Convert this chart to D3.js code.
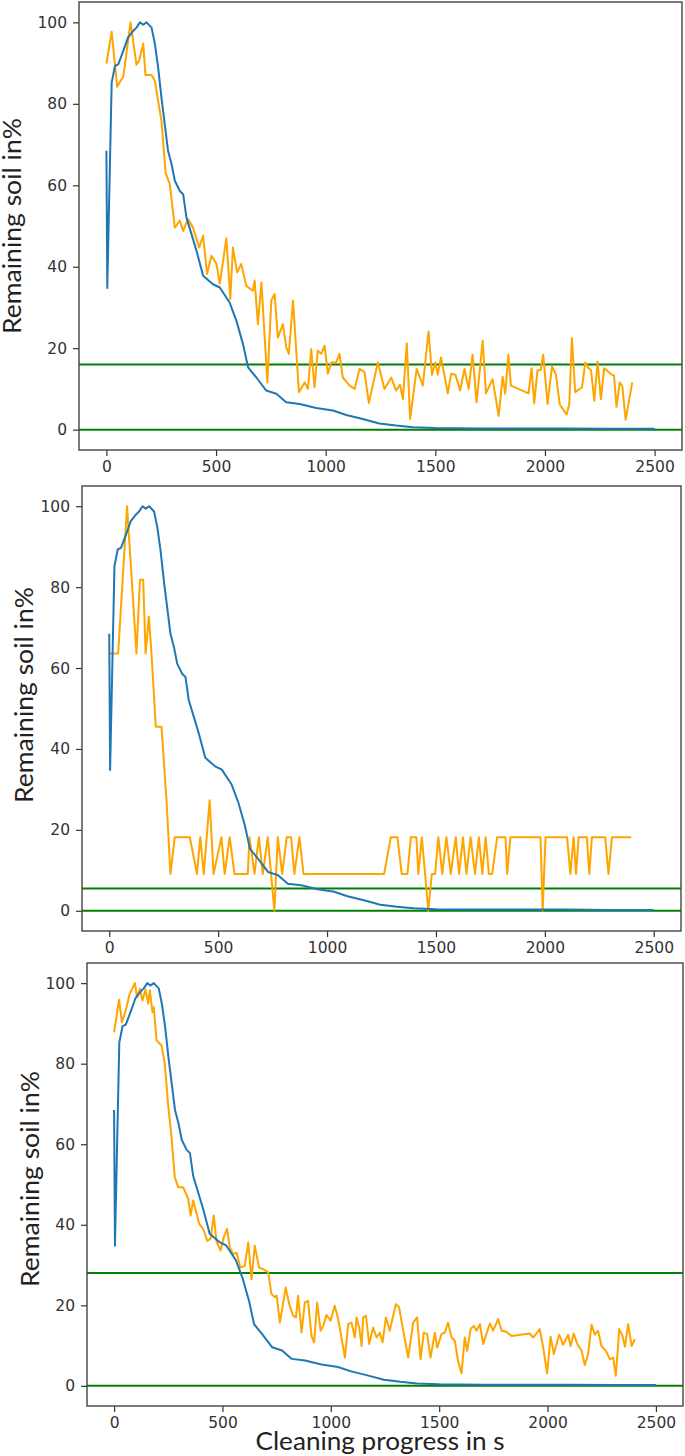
<!DOCTYPE html>
<html>
<head>
<meta charset="utf-8">
<script src="https://cdn.jsdelivr.net/npm/d3@7"></script>
<style>
  html, body { margin: 0; padding: 0; background: #fff; }
  svg { display: block; }
  .tick text { font-family: "DejaVu Sans", sans-serif; font-size: 15.5px; fill: #333; }
  .tick line { stroke: #333; stroke-width: 1.2; }
  .axis-label { font-family: Lato, "Open Sans", sans-serif; font-size: 25px; fill: #222; }
</style>
</head>
<body>
<div id="chart"></div>
<script>
"use strict";

// tick values shared by all three panels
const xTicks = [0, 500, 1000, 1500, 2000, 2500];
const yTicks = [0, 20, 40, 60, 80, 100];

// reference curve (blue), same in every panel
const blueTime = [0, 4, 24, 39, 54, 77, 99, 122, 137, 153,
    168, 183, 206, 221, 236, 251, 266, 281, 297, 312,
    335, 350, 365, 388, 411, 441, 486, 517, 562, 593,
    623, 646, 684, 729, 775, 820, 881, 957, 1033, 1094,
    1169, 1245, 1321, 1397, 1500, 1700, 1900, 2100, 2300, 2500];
const blueSoil = [68.5, 34.8, 85.2, 89.3, 89.7, 93, 96.3, 97.9, 98.7, 100,
    99.4, 100, 98.7, 94.7, 88.9, 81.5, 75, 68.5, 65.2, 61.1,
    58.6, 57.8, 52.1, 48, 43.9, 37.8, 35.7, 34.9, 31.2, 26.7,
    21, 15.3, 12.8, 9.6, 8.8, 6.7, 6.3, 5.3, 4.7, 3.6,
    2.6, 1.5, 1, 0.6, 0.4, 0.3, 0.3, 0.3, 0.2, 0.2];

// panel 1 (orange)
const p1Time = [0, 24, 49, 63, 77, 110, 137, 149, 168, 178,
    206, 221, 236, 251, 270, 289, 312, 335, 350, 372,
    395, 423, 441, 459, 479, 502, 517, 547, 565, 577,
    596, 615, 638, 668, 676, 691, 707, 734, 752, 767,
    782, 805, 820, 832, 851, 878, 904, 919, 934, 949,
    964, 980, 995, 1010, 1025, 1048, 1063, 1078, 1109, 1132,
    1154, 1177, 1197, 1215, 1238, 1268, 1299, 1321, 1339, 1352,
    1370, 1385, 1415, 1443, 1469, 1485, 1500, 1511, 1526, 1557,
    1572, 1592, 1613, 1633, 1652, 1670, 1688, 1716, 1731, 1761,
    1789, 1807, 1819, 1833, 1845, 1925, 1939, 1951, 1966, 1980,
    1992, 2012, 2032, 2050, 2068, 2099, 2111, 2123, 2138, 2169,
    2184, 2199, 2210, 2225, 2240, 2255, 2270, 2305, 2315, 2326,
    2341, 2353, 2368, 2398];
const p1Soil = [89.9, 97.7, 84.2, 85.5, 86.6, 100, 89.6, 90.6, 94.8, 87.1,
    87.1, 85.6, 80.7, 75.8, 63.1, 60.3, 49.6, 51.3, 48.8, 51.7,
    49.6, 44.7, 47.6, 38.2, 42.7, 40.7, 35.8, 47, 32.1, 44.7,
    38.6, 40.7, 35.3, 34.1, 36.6, 25.9, 36.1, 11.6, 31.7, 33.3,
    22.6, 25.9, 20.2, 18.6, 31.7, 9.2, 11.6, 10, 19.8, 10.4,
    19.4, 18.6, 20.6, 13.7, 16.5, 16.5, 18.6, 12.8, 10.8, 10,
    14.9, 14.1, 6.5, 11, 16.5, 10, 12.8, 9.6, 11, 7.5,
    21.2, 2.6, 14.9, 10.8, 24.1, 13.5, 16.5, 13.5, 17.7, 8.9,
    13.7, 13.5, 9.6, 14.9, 10, 18.4, 6.7, 21.8, 8.9, 12.4,
    3.4, 13, 8.8, 18.4, 10.8, 8.9, 15.1, 6.5, 14.6, 14.6,
    18.4, 6.3, 15.5, 13.5, 6.1, 3.7, 6.3, 22.5, 9.2, 10.4,
    16.5, 15.1, 14.6, 7.1, 16.7, 7.5, 15.1, 13.5, 13.3, 5.6,
    11.6, 10.6, 2.4, 11.6];

// panel 2 (orange, quantised)
const p2Time = [0, 41, 82, 125, 141, 156, 167, 182, 194, 214,
    240, 263, 281, 301, 370, 403, 418, 434, 461, 479,
    515, 530, 553, 575, 636, 644, 667, 687, 705, 728,
    743, 758, 774, 794, 815, 835, 850, 873, 892, 1262,
    1293, 1323, 1343, 1369, 1385, 1410, 1419, 1435, 1465, 1481,
    1496, 1511, 1529, 1548, 1568, 1591, 1606, 1624, 1640, 1659,
    1679, 1697, 1713, 1728, 1743, 1758, 1781, 1819, 1827, 1842,
    1980, 1990, 2003, 2102, 2117, 2132, 2143, 2155, 2193, 2204,
    2216, 2277, 2292, 2308, 2397];
const p2Soil = [63.6, 63.6, 100, 63.6, 81.8, 81.8, 63.6, 72.7, 63.6, 45.5,
    45.5, 27.3, 9.1, 18.2, 18.2, 9.1, 18.2, 9.1, 27.3, 9.1,
    18.2, 9.1, 18.2, 9.1, 9.1, 18.2, 9.1, 18.2, 9.1, 18.2,
    9.1, 0, 18.2, 9.1, 18.2, 18.2, 9.1, 18.2, 9.1, 9.1,
    18.2, 18.2, 9.1, 9.1, 18.2, 18.2, 9.1, 18.2, 0, 9.1,
    9.1, 18.2, 9.1, 18.2, 9.1, 18.2, 9.1, 18.2, 9.1, 18.2,
    9.1, 18.2, 9.1, 18.2, 9.1, 9.1, 18.2, 18.2, 9.1, 18.2,
    18.2, 0, 18.2, 18.2, 9.1, 18.2, 9.1, 18.2, 18.2, 9.1,
    18.2, 18.2, 9.1, 18.2, 18.2];

// panel 3 (orange)
const p3Time = [0, 23, 36, 54, 72, 96, 106, 119, 131, 145,
    157, 165, 177, 183, 196, 219, 234, 249, 265, 280,
    296, 319, 342, 353, 365, 393, 411, 430, 445, 460,
    472, 491, 506, 521, 534, 549, 565, 583, 603, 619,
    634, 649, 669, 688, 711, 726, 742, 750, 765, 792,
    808, 826, 839, 849, 865, 880, 895, 911, 923, 937,
    953, 965, 980, 999, 1018, 1034, 1065, 1080, 1095, 1111,
    1119, 1131, 1142, 1149, 1162, 1177, 1195, 1211, 1226, 1239,
    1254, 1272, 1300, 1315, 1334, 1357, 1380, 1398, 1414, 1429,
    1444, 1460, 1480, 1491, 1511, 1526, 1541, 1557, 1572, 1587,
    1603, 1618, 1629, 1645, 1660, 1672, 1688, 1703, 1718, 1734,
    1749, 1772, 1788, 1808, 1834, 1918, 1934, 1964, 1980, 1998,
    2014, 2029, 2054, 2072, 2095, 2106, 2121, 2137, 2157, 2172,
    2187, 2203, 2218, 2233, 2249, 2269, 2288, 2303, 2315, 2331,
    2346, 2357, 2372, 2388, 2403];
const p3Soil = [87.8, 95.9, 90.3, 93.2, 97.4, 100, 96.5, 98.6, 95.7, 98.4,
    94.9, 98.2, 92.8, 94, 85.8, 84.5, 80, 70, 61.7, 51.8,
    49.3, 49.3, 46.4, 42.3, 46, 40.2, 39, 36, 36.5, 42.3,
    36, 33.6, 36.9, 39, 34.4, 32.7, 33.1, 29.4, 29.8, 35.6,
    26.5, 34.8, 29.4, 29, 28.2, 22.8, 22, 22.4, 15.7, 24.4,
    20.3, 17.4, 17, 22.4, 13.3, 20.7, 21.1, 12.4, 10.8, 20.7,
    13.7, 14.9, 17.6, 16.2, 19.9, 16.6, 7, 15.3, 15.7, 12,
    17, 14.5, 9.9, 17, 17.4, 10.4, 14.5, 12, 13.2, 10.8,
    17, 13.7, 20.3, 19.5, 13.7, 7, 15.7, 17, 6.6, 13.2,
    12.9, 7, 13.2, 9.5, 12.9, 13.2, 15.7, 12, 11.2, 6.2,
    3.1, 12, 8.7, 14.1, 14.9, 13.7, 15.3, 10.4, 12.9, 15.5,
    13.7, 16.6, 13.7, 13.5, 12.4, 13, 12, 14.1, 9.5, 3.1,
    12.2, 7.9, 12.7, 10.2, 12.7, 9.9, 13, 10.4, 8.7, 5.2,
    7.9, 15.2, 12.7, 13.7, 9.9, 8.7, 6.6, 7, 2.5, 14.1,
    12.4, 9.7, 15.3, 9.9, 11.6];

// green horizontal lines per panel (the lower one is always 0)
const limits = [16, 5.5, 28];

const yLabel = "Remaining soil in%";
const xLabel = "Cleaning progress in s";

const width = 685;
const height = 1456;

// panel frames in the picture
const panels = [
    { left: 79, right: 682, top: 2, bottom: 450, labelX: 21, time: p1Time, soil: p1Soil, limit: limits[0] },
    { left: 82, right: 681, top: 486, bottom: 931, labelX: 33, labelY: 695, time: p2Time, soil: p2Soil, limit: limits[1] },
    { left: 87, right: 683, top: 963, bottom: 1406, labelX: 39, labelY: 1179, time: p3Time, soil: p3Soil, limit: limits[2] },
];

const svg = d3
    .select("#chart")
    .append("svg")
    .attr("width", width)
    .attr("height", height);

function drawPanel(p) {
    const g = svg.append("g");

    const xScale = d3.scaleLinear().domain([-125, 2625]).range([p.left, p.right]);
    const yScale = d3.scaleLinear().domain([-5, 105]).range([p.bottom, p.top]);

    const line = d3
        .line()
        .x(d => xScale(d[0]))
        .y(d => yScale(d[1]));

    // x axis
    g.append("g")
        .attr("transform", `translate(0, ${p.bottom})`)
        .call(d3.axisBottom(xScale).tickValues(xTicks).tickSize(6).tickPadding(5).tickFormat(d3.format("d")))
        .call(a => a.select(".domain").remove());

    // y axis
    g.append("g")
        .attr("transform", `translate(${p.left}, 0)`)
        .call(d3.axisLeft(yScale).tickValues(yTicks).tickSize(6).tickPadding(6).tickFormat(d3.format("d")))
        .call(a => a.select(".domain").remove());

    // green limit lines
    [0, p.limit].forEach(v => {
        g.append("line")
            .attr("x1", p.left)
            .attr("x2", p.right)
            .attr("y1", yScale(v))
            .attr("y2", yScale(v))
            .attr("stroke", "#008000")
            .attr("stroke-width", 2);
    });

    // measured curve
    g.append("path")
        .datum(d3.zip(p.time, p.soil))
        .attr("d", line)
        .attr("fill", "none")
        .attr("stroke", "#ffa500")
        .attr("stroke-width", 2)
        .attr("stroke-linejoin", "round");

    // reference curve
    g.append("path")
        .datum(d3.zip(blueTime, blueSoil))
        .attr("d", line)
        .attr("fill", "none")
        .attr("stroke", "#1f77b4")
        .attr("stroke-width", 2)
        .attr("stroke-linejoin", "round");

    // frame
    g.append("rect")
        .attr("x", p.left)
        .attr("y", p.top)
        .attr("width", p.right - p.left)
        .attr("height", p.bottom - p.top)
        .attr("fill", "none")
        .attr("stroke", "#444")
        .attr("stroke-width", 1.4);

    const cy = p.labelY || (p.top + p.bottom) / 2;
    g.append("text")
        .attr("class", "axis-label")
        .attr("transform", `translate(${p.labelX}, ${cy}) rotate(-90)`)
        .attr("text-anchor", "middle")
        .attr("textLength", 216)
        .attr("lengthAdjust", "spacingAndGlyphs")
        .text(yLabel);
}

panels.forEach(drawPanel);

svg.append("text")
    .attr("class", "axis-label")
    .attr("x", 380)
    .attr("y", 1450)
    .attr("text-anchor", "middle")
    .attr("textLength", 249)
    .attr("lengthAdjust", "spacingAndGlyphs")
    .text(xLabel);
</script>
</body>
</html>
